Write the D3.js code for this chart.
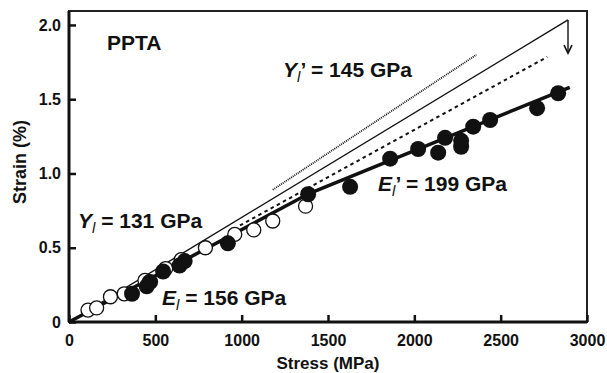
<!DOCTYPE html>
<html>
<head>
<meta charset="utf-8">
<script src="https://cdn.jsdelivr.net/npm/d3@7"></script>
<style>
  body { margin: 0; background: #fff; }
  svg { display: block; font-family: "Liberation Sans", Arial, Helvetica, sans-serif; }
</style>
</head>
<body>
<svg id="chart" width="607" height="373"></svg>
<script>
// stress (MPa), strain (%)
var openStress = [110, 160, 240, 320, 440, 465, 560, 650, 790, 960, 1070, 1180, 1370];
var openStrain = [0.08, 0.095, 0.17, 0.19, 0.28, 0.27, 0.36, 0.42, 0.50, 0.59, 0.62, 0.68, 0.78];

var filledStress = [365, 450, 470, 545, 640, 670, 920, 1385, 1628, 1860, 2022, 2138, 2178, 2271, 2271, 2341, 2439, 2711, 2833];
var filledStrain = [0.19, 0.24, 0.27, 0.34, 0.38, 0.41, 0.53, 0.86, 0.91, 1.10, 1.165, 1.14, 1.24, 1.18, 1.22, 1.315, 1.36, 1.44, 1.54];

var solidLine = [[0, 0], [2890, 2.034]];
var dottedLine = [[1180, 0.89], [2360, 1.80]];
var dashedLine = [[990, 0.65], [2770, 1.785]];
var thickLine = [[0, 0], [1390, 0.865], [2900, 1.58]];
var arrowLine = [[2890, 2.034], [2890, 1.81]];

var xTicks = [0, 500, 1000, 1500, 2000, 2500, 3000];
var yTicks = [0, 0.5, 1.0, 1.5, 2.0];
var yTickLabels = ["0", "0.5", "1.0", "1.5", "2.0"];

var margin = {top: 11, right: 20, bottom: 51, left: 69};
var width = 607, height = 373;

var svg = d3.select("#chart");

var x = d3.scaleLinear().domain([0, 3000]).range([margin.left, width - margin.right]);
var y = d3.scaleLinear().domain([0, 2.094]).range([height - margin.bottom, margin.top]);

var line = d3.line().x(function(d){ return x(d[0]); }).y(function(d){ return y(d[1]); });

// frame
svg.append("rect")
    .attr("x", x(0)).attr("y", y(2.094))
    .attr("width", x(3000) - x(0)).attr("height", y(0) - y(2.094))
    .attr("fill", "none").attr("stroke", "#222").attr("stroke-width", 2);
svg.append("line").attr("x1", x(0)).attr("x2", x(0)).attr("y1", y(2.094)).attr("y2", y(0))
    .attr("stroke", "#111").attr("stroke-width", 3);
svg.append("line").attr("x1", x(0)).attr("x2", x(3000)).attr("y1", y(0)).attr("y2", y(0))
    .attr("stroke", "#111").attr("stroke-width", 3);

// axes (ticks inward)
var xAxis = function(g){
    g.attr("transform", "translate(0," + y(0) + ")")
        .call(d3.axisBottom(x).tickValues(xTicks).tickSize(-7).tickPadding(13).tickFormat(d3.format("d")))
        .call(function(g){ g.select(".domain").remove(); })
        .call(function(g){ g.selectAll("line").attr("stroke", "#111").attr("stroke-width", 2.5); })
        .call(function(g){ g.selectAll("text").attr("font-size", 16).attr("font-weight", "bold").attr("fill", "#111"); });
};
var yAxis = function(g){
    g.attr("transform", "translate(" + x(0) + ",0)")
        .call(d3.axisLeft(y).tickValues(yTicks).tickSize(-7).tickPadding(8).tickFormat(function(d, i){ return yTickLabels[i]; }))
        .call(function(g){ g.select(".domain").remove(); })
        .call(function(g){ g.selectAll("line").attr("stroke", "#111").attr("stroke-width", 2.5); })
        .call(function(g){ g.selectAll("text").attr("font-size", 16).attr("font-weight", "bold").attr("fill", "#111"); });
};
svg.append("g").call(xAxis);
svg.append("g").call(yAxis);

// reference lines
svg.append("path").datum(solidLine).attr("d", line)
    .attr("fill", "none").attr("stroke", "#111").attr("stroke-width", 1.4);
svg.append("path").datum(dottedLine).attr("d", line)
    .attr("fill", "none").attr("stroke", "#111").attr("stroke-width", 1.8).attr("stroke-dasharray", "1,1");
svg.append("path").datum(dashedLine).attr("d", line)
    .attr("fill", "none").attr("stroke", "#111").attr("stroke-width", 2).attr("stroke-dasharray", "3.5,3.5");
svg.append("path").datum(arrowLine).attr("d", line)
    .attr("fill", "none").attr("stroke", "#111").attr("stroke-width", 1.4);
var ax = x(arrowLine[1][0]), ay = y(arrowLine[1][1]);
svg.append("path")
    .attr("d", "M" + (ax - 4) + "," + (ay - 8) + "L" + ax + "," + ay + "L" + (ax + 4) + "," + (ay - 8))
    .attr("fill", "none").attr("stroke", "#111").attr("stroke-width", 1.6);

// thick fit line
svg.append("path").datum(thickLine).attr("d", line)
    .attr("fill", "none").attr("stroke", "#111").attr("stroke-width", 3.5);

// open circles
svg.append("g").selectAll("circle")
    .data(d3.range(openStress.length))
    .join("circle")
    .attr("cx", function(i){ return x(openStress[i]); })
    .attr("cy", function(i){ return y(openStrain[i]); })
    .attr("r", 7)
    .attr("fill", "#fff").attr("stroke", "#111").attr("stroke-width", 1.3);

// filled circles
svg.append("g").selectAll("circle")
    .data(d3.range(filledStress.length))
    .join("circle")
    .attr("cx", function(i){ return x(filledStress[i]); })
    .attr("cy", function(i){ return y(filledStrain[i]); })
    .attr("r", 8)
    .attr("fill", "#111");

// annotations
svg.append("text").attr("x", x(220)).attr("y", y(1.83))
    .attr("font-size", 21).attr("font-weight", "bold").attr("fill", "#111").text("PPTA");

function modLabel(sym, prime, value, px, py){
    var t = svg.append("text").attr("x", x(px)).attr("y", y(py))
        .attr("font-size", 21).attr("font-weight", "bold").attr("fill", "#111");
    t.append("tspan").attr("font-style", "italic").text(sym);
    t.append("tspan").attr("font-style", "italic").attr("font-weight", "normal")
        .attr("font-size", 15).attr("dy", 5).text("l");
    t.append("tspan").attr("dy", -5).text((prime ? "\u2019" : "") + " = " + value + " GPa");
}
modLabel("Y", true, 145, 1240, 1.65);
modLabel("Y", false, 131, 52, 0.633);
modLabel("E", false, 156, 539, 0.115);
modLabel("E", true, 199, 1790, 0.88);

// axis titles
svg.append("text").attr("x", (x(0) + x(3000)) / 2).attr("y", 369)
    .attr("text-anchor", "middle").attr("font-size", 17).attr("font-weight", "bold").attr("fill", "#111")
    .text("Stress (MPa)");
svg.append("text").attr("transform", "translate(26,162) rotate(-90)")
    .attr("text-anchor", "middle").attr("font-size", 18).attr("font-weight", "bold").attr("fill", "#111")
    .text("Strain (%)");
</script>
</body>
</html>
